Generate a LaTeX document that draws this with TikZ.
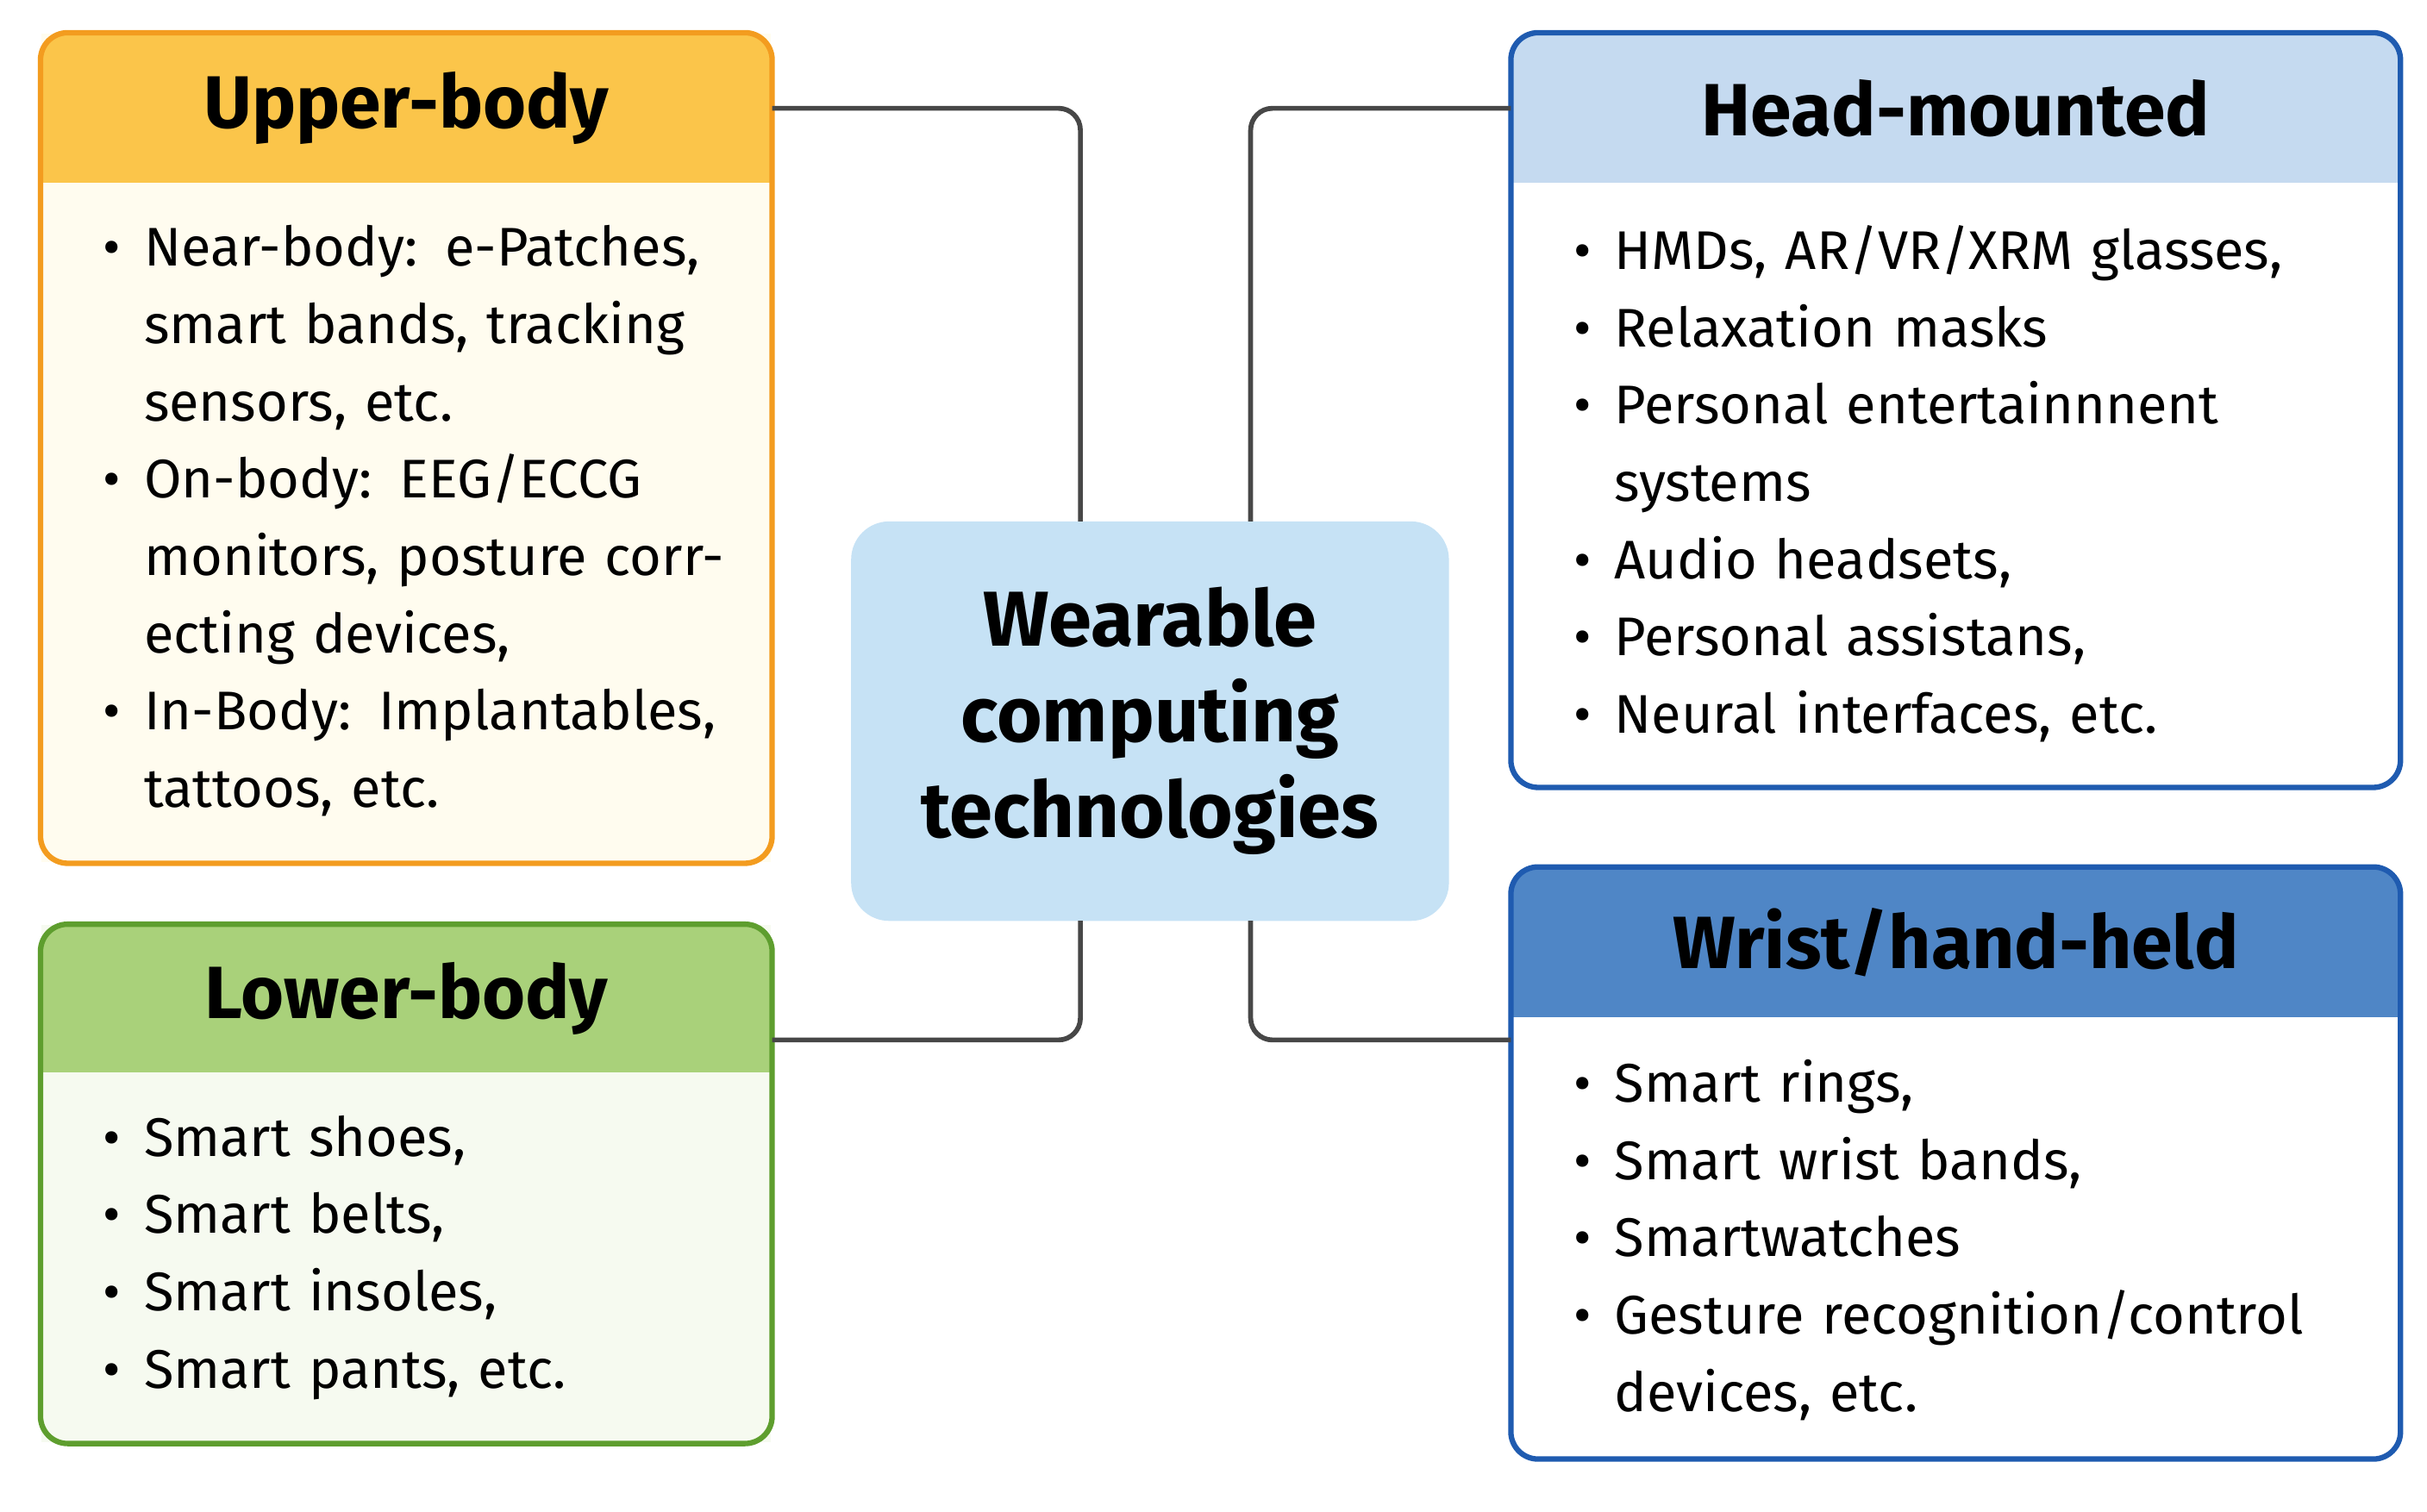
\documentclass[tikz,border=0pt]{standalone}
\usepackage{fontspec}
\setmainfont{Fira Sans}
\definecolor{upH}{HTML}{FBC54A}\definecolor{upB}{HTML}{FFFCEF}\definecolor{upL}{HTML}{F39C1F}
\definecolor{loH}{HTML}{A9D17A}\definecolor{loB}{HTML}{F6FAF0}\definecolor{loL}{HTML}{5E9E2E}
\definecolor{hmH}{HTML}{C5DAF0}\definecolor{hmL}{HTML}{1F5BB0}
\definecolor{wrH}{HTML}{4F86C6}
\definecolor{midC}{HTML}{C6E2F5}
\newcommand{\itm}[1]{\noindent\hangindent=0.75em\hangafter=1\makebox[0.75em][l]{\textbullet}#1\par}
\tikzset{
  panel/.style={rectangle, draw=none, inner sep=0pt},
  title/.style={rectangle, inner sep=0pt, font=\fontsize{13.6}{16}\selectfont\bfseries},
  items/.style={anchor=north west, inner sep=0pt, text width=5.5cm,
    font=\fontsize{10}{14.2}\selectfont, execute at begin node={\raggedright\hyphenpenalty=10000}},
  link/.style={draw=black!72, line width=0.9pt, rounded corners=4pt}
}
\begin{document}
\begin{tikzpicture}[x=0.01cm, y=-0.01cm]
\useasboundingbox (0,0) rectangle (1568,977);

% panels
\node[panel, fill=upB, minimum width=4.71cm, minimum height=5.35cm] (upper) at (262.5,289.5) {};
\node[panel, fill=loB, minimum width=4.71cm, minimum height=3.34cm] (lower) at (262.5,765) {};
\node[panel, fill=white, minimum width=5.73cm, minimum height=4.86cm] (head) at (1263.5,265) {};
\node[panel, fill=white, minimum width=5.73cm, minimum height=3.81cm] (wrist) at (1263.5,751.5) {};

\begin{scope}
\clip[rounded corners=5pt] (upper.south west) rectangle (upper.north east);
\node[title, fill=upH, minimum width=4.71cm, minimum height=0.96cm] (upperh) at (262.5,70) {Upper-body};
\end{scope}
\begin{scope}
\clip[rounded corners=5pt] (lower.south west) rectangle (lower.north east);
\node[title, fill=loH, minimum width=4.71cm, minimum height=0.95cm] (lowerh) at (262.5,645.5) {Lower-body};
\end{scope}
\begin{scope}
\clip[rounded corners=5pt] (head.south west) rectangle (head.north east);
\node[title, fill=hmH, minimum width=5.73cm, minimum height=0.96cm] (headh) at (1263.5,70) {Head-mounted};
\end{scope}
\begin{scope}
\clip[rounded corners=5pt] (wrist.south west) rectangle (wrist.north east);
\node[title, fill=wrH, minimum width=5.73cm, minimum height=0.96cm] (wristh) at (1263.5,609) {Wrist/hand-held};
\end{scope}

\draw[upL, line width=1pt, rounded corners=5pt] (upper.south west) rectangle (upper.north east);
\draw[loL, line width=1pt, rounded corners=5pt] (lower.south west) rectangle (lower.north east);
\draw[hmL, line width=1pt, rounded corners=5pt] (head.south west) rectangle (head.north east);
\draw[hmL, line width=1pt, rounded corners=5pt] (wrist.south west) rectangle (wrist.north east);

% centre
\node[panel, fill=midC, rounded corners=7pt, minimum width=3.86cm, minimum height=2.58cm,
  align=center, font=\fontsize{14.3}{17.6}\selectfont\bfseries] (mid) at (743,466)
  {Wearable\\computing\\technologies};

% lists
\node[items] (upperl) at (66,145) {
\itm{Near-body: e-Patches,\newline smart bands, tracking\newline sensors, etc.}
\itm{On-body: EEG/ECCG\newline monitors, posture corr-\newline ecting devices,}
\itm{In-Body: Implantables,\newline tattoos, etc.}};
\node[items] (lowerl) at (66,720) {
\itm{Smart shoes,}
\itm{Smart belts,}
\itm{Smart insoles,}
\itm{Smart pants, etc.}};
\node[items] (headl) at (1016,145) {
\itm{HMDs, AR/VR/XRM glasses,}
\itm{Relaxation masks}
\itm{Personal entertainnnent\newline systems}
\itm{Audio headsets,}
\itm{Personal assistans,}
\itm{Neural interfaces, etc.}};
\node[items] (wristl) at (1016,684) {
\itm{Smart rings,}
\itm{Smart wrist bands,}
\itm{Smartwatches}
\itm{Gesture recognition/control\newline devices, etc.}};

% connectors
\coordinate (mtl) at (698,337);
\coordinate (mtr) at (808,337);
\coordinate (mbl) at (698,595);
\coordinate (mbr) at (808,595);
\draw[link] (upperh.east) -| (mtl);
\draw[link] (headh.west) -| (mtr);
\draw[link] (lower.east |- 0,672) -| (mbl);
\draw[link] (wrist.west |- 0,672) -| (mbr);
\end{tikzpicture}
\end{document}
